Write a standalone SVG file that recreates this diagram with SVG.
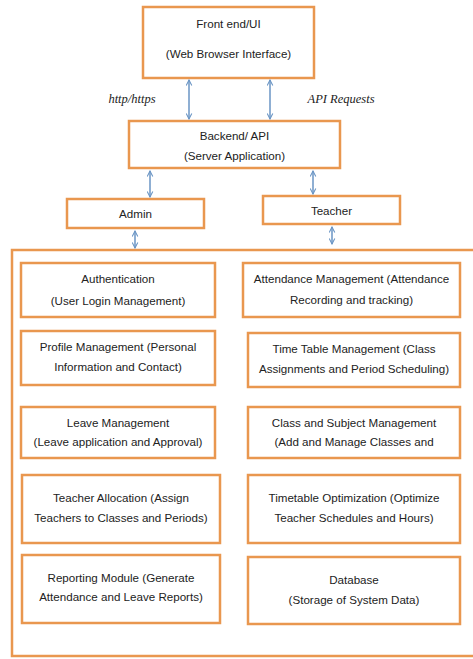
<svg xmlns="http://www.w3.org/2000/svg" width="473" height="659" viewBox="0 0 473 659">
<style>
.box{fill:#fff;stroke:#E9974F;stroke-width:2.5}
.t{font-family:"Liberation Sans",Arial,sans-serif;font-size:11.6px;fill:#222;text-anchor:middle}
.i{font-family:"Liberation Serif","Times New Roman",serif;font-size:12.5px;font-style:italic;fill:#222;text-anchor:middle}
.c{stroke:#6A95C4;stroke-width:1.5;fill:none;marker-start:url(#h);marker-end:url(#h)}
</style>
<defs>
<marker id="h" viewBox="0 0 10 10" refX="9" refY="5" markerWidth="7" markerHeight="7" orient="auto-start-reverse" markerUnits="userSpaceOnUse">
<path d="M1,1 L9,5 L1,9" fill="none" stroke="#6A95C4" stroke-width="1.5"/>
</marker>
</defs>
<rect width="473" height="659" fill="#fff"/>
<g id="container"><rect class="box" x="12" y="250" width="470" height="406"/></g>
<g id="frontend"><rect class="box" x="143" y="7" width="171" height="71"/><text class="t" x="228.5" y="28">Front end/UI</text><text class="t" x="228.5" y="58">(Web Browser Interface)</text></g>
<g id="backend"><rect class="box" x="129" y="121" width="211" height="47"/><text class="t" x="234.5" y="140">Backend/ API</text><text class="t" x="234.5" y="160">(Server Application)</text></g>
<g id="admin"><rect class="box" x="67" y="199" width="137" height="29"/><text class="t" x="135.5" y="218">Admin</text></g>
<g id="teacher"><rect class="box" x="263" y="196" width="137" height="28"/><text class="t" x="331.5" y="215">Teacher</text></g>
<g id="auth"><rect class="box" x="21" y="263" width="194" height="54"/><text class="t" x="118" y="283">Authentication</text><text class="t" x="118" y="305">(User Login Management)</text></g>
<g id="profile"><rect class="box" x="21" y="331" width="194" height="54"/><text class="t" x="118" y="351">Profile Management (Personal</text><text class="t" x="118" y="371">Information and Contact)</text></g>
<g id="leave"><rect class="box" x="21" y="407" width="194" height="51"/><text class="t" x="118" y="427">Leave Management</text><text class="t" x="118" y="446">(Leave application and Approval)</text></g>
<g id="allocation"><rect class="box" x="22" y="475" width="198" height="68"/><text class="t" x="121" y="502">Teacher Allocation (Assign</text><text class="t" x="121" y="522">Teachers to Classes and Periods)</text></g>
<g id="reporting"><rect class="box" x="22" y="555" width="198" height="68"/><text class="t" x="121" y="582">Reporting Module (Generate</text><text class="t" x="121" y="601">Attendance and Leave Reports)</text></g>
<g id="attendance"><rect class="box" x="243" y="263" width="217" height="54"/><text class="t" x="351.5" y="283">Attendance Management (Attendance</text><text class="t" x="351.5" y="304">Recording and tracking)</text></g>
<g id="timetable"><rect class="box" x="248" y="333" width="212" height="54"/><text class="t" x="354" y="353">Time Table Management (Class</text><text class="t" x="354" y="373">Assignments and Period Scheduling)</text></g>
<g id="classsubject"><rect class="box" x="248" y="407" width="212" height="51"/><text class="t" x="354" y="427">Class and Subject Management</text><text class="t" x="354" y="446">(Add and Manage Classes and</text></g>
<g id="optimization"><rect class="box" x="248" y="475" width="212" height="68"/><text class="t" x="354" y="502">Timetable Optimization  (Optimize</text><text class="t" x="354" y="522">Teacher Schedules and Hours)</text></g>
<g id="database"><rect class="box" x="248" y="557" width="212" height="67"/><text class="t" x="354" y="584">Database</text><text class="t" x="354" y="604">(Storage of System Data)</text></g>
<g id="connectors">
<line class="c" x1="189" y1="80" x2="189" y2="119"/>
<line class="c" x1="270" y1="80" x2="270" y2="119"/>
<line class="c" x1="150" y1="171" x2="150" y2="197"/>
<line class="c" x1="313" y1="171" x2="313" y2="194"/>
<line class="c" x1="135" y1="231" x2="135" y2="248"/>
<line class="c" x1="332" y1="227" x2="332" y2="244"/>
<text class="i" x="132" y="103">http/https</text>
<text class="i" x="341" y="103">API Requests</text>
</g>
</svg>
